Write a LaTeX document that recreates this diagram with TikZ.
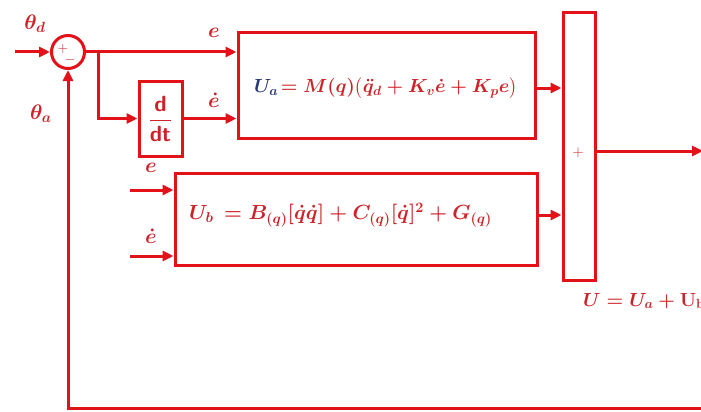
\RequirePackage{fix-cm}
\documentclass[tikz,border=0pt]{standalone}
\usepackage{amsmath}
\usetikzlibrary{arrows.meta,calc}
\definecolor{lred}{RGB}{226,18,24}
\definecolor{tred}{RGB}{205,35,40}
\definecolor{tblue}{RGB}{40,55,120}
\tikzset{
  blk/.style={draw=lred,line width=3pt,rectangle,inner sep=0pt},
  sig/.style={draw=lred,line width=3pt,-{Triangle[length=11pt,width=10pt]}},
  lbl/.style={text=tred,font=\fontsize{21}{23}\selectfont\boldmath,inner sep=0pt},
  frm/.style={text=tred,font=\fontsize{19}{21}\selectfont\boldmath,inner sep=0pt}
}
\begin{document}
\begin{tikzpicture}[x=1pt,y=-1pt]
\useasboundingbox (0,0) rectangle (701,412);
\fill[white] (0,0) rectangle (701,412);
% sum circle
\node[circle,draw=lred,line width=3pt,minimum size=33pt,inner sep=0pt] (sum) at (68,52) {};
\node[text=tred,font=\fontsize{14}{15}\selectfont,inner sep=0pt] (plus) at (63,49) {$+$};
\node[text=tred,font=\fontsize{14}{15}\selectfont,inner sep=0pt] (minus) at (70,60) {$-$};
% blocks
\node[blk,minimum width=43pt,minimum height=75pt] (dd) at (160.5,118.5) {};
\node[text=tred,font=\fontsize{22}{24}\selectfont,inner sep=0pt] (ddt) at (dd.center) {$\dfrac{\textsf{\textbf{d}}}{\textsf{\textbf{dt}}}$};
\node[blk,minimum width=297pt,minimum height=105pt] (A) at (386.5,85.5) {};
\node[frm,anchor=west] (Atext) at (254,88) {$\color{tblue}U_a\!\color{tred}=M(q)\bigl(\ddot{q}_d+K_v\dot{e}+K_p e\bigr)$};
\node[blk,minimum width=362pt,minimum height=92pt] (B) at (356,219) {};
\node[frm,anchor=west,font=\fontsize{20.5}{22}\selectfont\boldmath] (Btext) at (189,215) {$U_b\,=B_{(q)}[\dot{q}\dot{q}]+C_{(q)}[\dot{q}]^2+G_{(q)}$};
\node[blk,minimum width=32pt,minimum height=267pt] (S) at (579,146.5) {};
\node[text=tred,font=\fontsize{15}{16}\selectfont,inner sep=0pt] (Splus) at (578,153) {$+$};
% coordinates
\coordinate (in) at (15,52);
\coordinate (br) at (98,52);
\coordinate (eb) at (130,190);
\coordinate (edb) at (130,256);
\path (A.east) ++(0,2.5) coordinate (aout);
\path (B.east) ++(0,-4) coordinate (bout);
\path (S.east) ++(0,4.5) coordinate (sout);
\coordinate (out) at (703,151);
\coordinate (fb) at (703,408);
% labels
\node[lbl] (thd) at (35,24) {$\theta_d$};
\node[lbl] (tha) at (41,114) {$\theta_a$};
\node[lbl] (le) at (214,33) {$e$};
\node[lbl] (led) at (214,100) {$\dot{e}$};
\node[lbl] (le2) at (151,168) {$e$};
\node[lbl] (led2) at (151,236) {$\dot{e}$};
\node[frm,anchor=west,font=\fontsize{19}{21}\selectfont\boldmath] (U) at (583,301) {$U=U_a+\mathbf{U_b}$};
% connectors
\draw[sig] (in) -- (sum.west);
\draw[sig] (sum.east) -- (sum.east -| A.west);
\draw[sig] (br) |- (dd.west);
\draw[sig] (dd.east) -- (dd.east -| A.west);
\draw[sig] (aout) -- (aout -| S.west);
\draw[sig] (eb) -- (eb -| B.west);
\draw[sig] (edb) -- (edb -| B.west);
\draw[sig] (bout) -- (bout -| S.west);
\draw[sig] (sout) -- (sout -| out);
\draw[sig] (fb) -| (sum.south);
\end{tikzpicture}
\end{document}
